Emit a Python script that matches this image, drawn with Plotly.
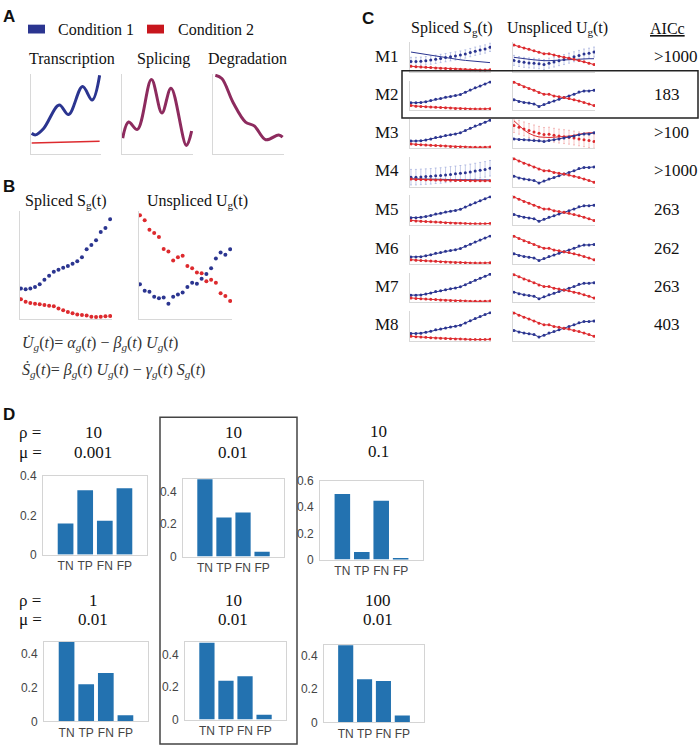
import plotly.graph_objects as go

W, H = 700, 753

# ------------------------------------------------------------------ DATA
# Panel A (normalised knot values of the sketched curves)
A_trans_x = [0, 0.057, 0.176, 0.405, 0.543, 0.748, 0.89, 1.0]
A_trans_blue = [0.265, 0.245, 0.327, 0.624, 0.502, 0.857, 0.686, 1.0]
A_trans_red_x = [0, 1.0]
A_trans_red = [0.143, 0.163]
A_splice_x = [0, 0.085, 0.213, 0.417, 0.569, 0.701, 0.924, 1.0]
A_splice = [0.204, 0.408, 0.314, 0.947, 0.522, 0.837, 0.11, 0.294]
A_degr_x = [0.024, 0.118, 0.283, 0.462, 0.589, 0.755, 0.943, 1.0]
A_degr = [1.0, 0.959, 0.653, 0.408, 0.359, 0.184, 0.245, 0.216]

# Panel B (20 time points)
B_t = list(range(20))
B_S_blue = [0.268, 0.262, 0.268, 0.284, 0.308, 0.351, 0.390, 0.427, 0.445, 0.466,
            0.482, 0.503, 0.527, 0.564, 0.640, 0.680, 0.726, 0.802, 0.841, 0.924]
B_S_red = [0.168, 0.143, 0.131, 0.125, 0.119, 0.113, 0.107, 0.101, 0.079, 0.064,
           0.046, 0.034, 0.024, 0.018, 0.015, 0.003, 0.0, 0.003, 0.006, 0.009]
B_U_red = [0.960, 0.915, 0.823, 0.793, 0.756, 0.643, 0.619, 0.534, 0.564, 0.579,
           0.482, 0.460, 0.421, 0.412, 0.338, 0.351, 0.323, 0.223, 0.198, 0.152]
B_U_blue = [0.308, 0.247, 0.238, 0.192, 0.177, 0.183, 0.125, 0.192, 0.213, 0.232,
            0.284, 0.323, 0.314, 0.360, 0.405, 0.460, 0.552, 0.610, 0.588, 0.640]

# Panel C (17 time points per mini plot)
C_t = list(range(17))
C_models = ["M1", "M2", "M3", "M4", "M5", "M6", "M7", "M8"]
C_aicc = [">1000", "183", ">100", ">1000", "263", "262", "263", "403"]
C_S_blue = [0.22, 0.22, 0.23, 0.26, 0.30, 0.35, 0.38, 0.42, 0.45, 0.48, 0.52, 0.60,
            0.68, 0.76, 0.83, 0.90, 0.97]
C_S_red = [0.12, 0.10, 0.09, 0.08, 0.07, 0.06, 0.05, 0.04, 0.03, 0.02, 0.02, 0.01,
           0.0, 0.0, 0.0, 0.0, 0.01]
C_U_red = [0.96, 0.88, 0.80, 0.74, 0.67, 0.59, 0.53, 0.53, 0.47, 0.44, 0.41, 0.38,
           0.33, 0.29, 0.235, 0.18, 0.12]
C_U_blue = [0.33, 0.27, 0.235, 0.21, 0.18, 0.09, 0.16, 0.235, 0.29, 0.35, 0.41, 0.47,
            0.53, 0.61, 0.65, 0.65, 0.67]
# M1 specific
M1_S_blue_fit = [0.67, 0.64, 0.61, 0.58, 0.55, 0.52, 0.49, 0.46, 0.43, 0.41, 0.39, 0.37,
                 0.35, 0.33, 0.31, 0.30, 0.29]
M1_S_blue = [0.33, 0.33, 0.34, 0.36, 0.38, 0.41, 0.44, 0.47, 0.50, 0.53, 0.56, 0.60,
             0.65, 0.70, 0.74, 0.78, 0.84]
M1_S_blue_err = [0.15] * 17
M1_S_red = [0.16, 0.14, 0.13, 0.12, 0.11, 0.10, 0.09, 0.08, 0.07, 0.06, 0.05, 0.04,
            0.03, 0.03, 0.02, 0.02, 0.03]
M1_U_red = [0.92, 0.87, 0.82, 0.77, 0.72, 0.66, 0.61, 0.61, 0.56, 0.52, 0.48, 0.45,
            0.41, 0.37, 0.32, 0.27, 0.22]
M1_U_blue_fit = [0.48, 0.45, 0.43, 0.41, 0.39, 0.37, 0.36, 0.36, 0.37, 0.38, 0.40, 0.41,
                 0.42, 0.43, 0.43, 0.43, 0.43]
M1_U_blue = [0.37, 0.33, 0.30, 0.28, 0.27, 0.25, 0.22, 0.27, 0.31, 0.36, 0.40, 0.45,
             0.50, 0.55, 0.60, 0.63, 0.67]
M1_U_blue_err = [0.18] * 17
# M3 specific
M3_U_red = [0.78, 0.72, 0.66, 0.60, 0.55, 0.50, 0.46, 0.47, 0.43, 0.40, 0.38, 0.36,
            0.33, 0.30, 0.27, 0.24, 0.21]
M3_U_red_err = [0.25] * 17
M3_U_red_fit = [0.95, 0.78, 0.62, 0.50, 0.42, 0.37, 0.35, 0.35, 0.36, 0.37, 0.38, 0.40,
                0.43, 0.47, 0.50, 0.52, 0.52]
M3_U_blue = [0.30, 0.28, 0.27, 0.26, 0.24, 0.23, 0.21, 0.24, 0.27, 0.30, 0.33, 0.37,
             0.40, 0.45, 0.48, 0.48, 0.52]
# M4 specific
M4_S_blue = [0.30, 0.30, 0.31, 0.32, 0.33, 0.35, 0.36, 0.38, 0.40, 0.42, 0.44, 0.46,
             0.49, 0.52, 0.55, 0.58, 0.62]
M4_S_blue_err = [0.28] * 17
M4_S_blue_fit = [0.24, 0.24, 0.23, 0.23, 0.23, 0.22, 0.22, 0.22, 0.21, 0.21, 0.21, 0.21,
                 0.20, 0.20, 0.20, 0.20, 0.20]
M4_S_red = [0.23, 0.22, 0.22, 0.21, 0.21, 0.20, 0.20, 0.19, 0.19, 0.18, 0.18, 0.18,
            0.17, 0.17, 0.17, 0.17, 0.17]

# Panel D
D_cats = ["TN", "TP", "FN", "FP"]
D_rho = ["10", "10", "10", "1", "10", "100"]
D_mu = ["0.001", "0.01", "0.1", "0.01", "0.01", "0.01"]
D_vals = [
    [0.158, 0.328, 0.172, 0.338],
    [0.475, 0.24, 0.27, 0.03],
    [0.50, 0.057, 0.45, 0.005],
    [0.467, 0.219, 0.284, 0.036],
    [0.475, 0.24, 0.267, 0.03],
    [0.463, 0.259, 0.249, 0.041],
]

# ------------------------------------------------------------------ STYLE
BLUE = "#2b3590"
RED = "#dd2a2e"
PURPLE = "#8d2b5e"
BAR = "#2372b0"
SERIF = "'Liberation Serif', Tinos, 'Times New Roman', 'DejaVu Serif', serif"
SANS = "'Liberation Sans', Arial, sans-serif"

fig = go.Figure()
_n = [0]


def new_axes(x0, x1, y0, y1, xr, yr, kind="plain", tickvals=None):
    _n[0] += 1
    n = _n[0]
    s = "" if n == 1 else str(n)
    base = dict(showgrid=False, zeroline=False, fixedrange=True)
    if kind == "plain":
        xa = dict(base, domain=[x0 / W, x1 / W], anchor="y" + s, range=xr,
                  showline=True, linecolor="#d8d8d8", linewidth=1,
                  showticklabels=False, ticks="")
        ya = dict(base, domain=[1 - y1 / H, 1 - y0 / H], anchor="x" + s, range=yr,
                  showline=True, linecolor="#d8d8d8", linewidth=1,
                  showticklabels=False, ticks="")
    else:
        xa = dict(base, domain=[x0 / W, x1 / W], anchor="y" + s, range=xr,
                  type="category", showline=True, mirror=True, linecolor="#d4d4d4",
                  linewidth=1, ticks="", tickfont=dict(family=SANS, size=12, color="#444"))
        ya = dict(base, domain=[1 - y1 / H, 1 - y0 / H], anchor="x" + s, range=yr,
                  showline=True, mirror=True, linecolor="#d4d4d4", linewidth=1,
                  ticks="", tickvals=tickvals, ticklabelstandoff=3,
                  tickfont=dict(family=SANS, size=12, color="#444"))
    fig.update_layout({"xaxis" + s: xa, "yaxis" + s: ya})
    return "x" + s, "y" + s


def text(px, py, s, size=16, family=SERIF, anchor="center", color="#111", bold=False):
    if bold:
        s = "<b>" + s + "</b>"
    fig.add_annotation(x=px / W, y=1 - py / H, xref="paper", yref="paper", text=s,
                       showarrow=False, xanchor=anchor, yanchor="middle",
                       font=dict(family=family, size=size, color=color))


def rect(x0, y0, x1, y1, color, fill=None, width=1.5):
    fig.add_shape(type="rect", xref="paper", yref="paper", x0=x0 / W, x1=x1 / W,
                  y0=1 - y1 / H, y1=1 - y0 / H,
                  line=dict(color=color, width=0 if fill else width),
                  fillcolor=fill if fill else "rgba(0,0,0,0)")


# ------------------------------------------------------------------ PANEL A
text(9, 10, "A", size=17, family=SANS, bold=True)
rect(28, 18, 45, 27, BLUE, fill=BLUE)
text(56, 23, "Condition 1", size=16, anchor="left")
rect(147, 18, 164, 27, RED, fill="#c8161d")
text(176, 23, "Condition 2", size=16, anchor="left")
text(72, 53, "Transcription", size=16)
text(163, 53, "Splicing", size=16)
text(247, 53, "Degradation", size=16)

xa, ya = new_axes(31, 101, 68, 150, [-0.01, 1.02], [0, 1.02])
fig.add_trace(go.Scatter(x=A_trans_red_x, y=A_trans_red, mode="lines", xaxis=xa, yaxis=ya,
                         line=dict(color=RED, width=1.5)))
fig.add_trace(go.Scatter(x=A_trans_x, y=A_trans_blue, mode="lines", xaxis=xa, yaxis=ya,
                         line=dict(color=BLUE, width=3, shape="spline", smoothing=1.0)))
xa, ya = new_axes(122, 193, 68, 150, [-0.01, 1.02], [0, 1.02])
fig.add_trace(go.Scatter(x=A_splice_x, y=A_splice, mode="lines", xaxis=xa, yaxis=ya,
                         line=dict(color=PURPLE, width=3, shape="spline", smoothing=1.0)))
xa, ya = new_axes(213, 284, 68, 150, [-0.01, 1.02], [0, 1.02])
fig.add_trace(go.Scatter(x=A_degr_x, y=A_degr, mode="lines", xaxis=xa, yaxis=ya,
                         line=dict(color=PURPLE, width=3, shape="spline", smoothing=1.0)))

# ------------------------------------------------------------------ PANEL B
text(9, 183, "B", size=17, family=SANS, bold=True)
text(66, 198, "Spliced S<sub>g</sub>(t)", size=16)
text(197, 198, "Unspliced U<sub>g</sub>(t)", size=16)
xa, ya = new_axes(20, 112, 208, 318, [-0.2, 19.4], [-0.02, 1])
fig.add_trace(go.Scatter(x=B_t, y=B_S_blue, mode="markers", xaxis=xa, yaxis=ya,
                         marker=dict(color=BLUE, size=4)))
fig.add_trace(go.Scatter(x=B_t, y=B_S_red, mode="markers", xaxis=xa, yaxis=ya,
                         marker=dict(color=RED, size=4)))
xa, ya = new_axes(139, 232, 208, 318, [-0.2, 19.4], [-0.02, 1])
fig.add_trace(go.Scatter(x=B_t, y=B_U_red, mode="markers", xaxis=xa, yaxis=ya,
                         marker=dict(color=RED, size=4)))
fig.add_trace(go.Scatter(x=B_t, y=B_U_blue, mode="markers", xaxis=xa, yaxis=ya,
                         marker=dict(color=BLUE, size=4)))
text(20, 343, "<i>U\u0307<sub>g</sub></i>(<i>t</i>)= <i>\u03b1<sub>g</sub></i>(<i>t</i>) \u2212 "
              "<i>\u03b2<sub>g</sub></i>(<i>t</i>) <i>U<sub>g</sub></i>(<i>t</i>)",
     size=16, anchor="left", color="#333")
text(20, 370, "<i>S\u0307<sub>g</sub></i>(<i>t</i>)= <i>\u03b2<sub>g</sub></i>(<i>t</i>) "
              "<i>U<sub>g</sub></i>(<i>t</i>) \u2212 <i>\u03b3<sub>g</sub></i>(<i>t</i>) "
              "<i>S<sub>g</sub></i>(<i>t</i>)",
     size=16, anchor="left", color="#333")

# ------------------------------------------------------------------ PANEL C
text(368, 12, "C", size=17, family=SANS, bold=True)
text(452, 22, "Spliced S<sub>g</sub>(t)", size=16)
text(557, 22, "Unspliced U<sub>g</sub>(t)", size=16)
text(667, 22, "<u>AICc</u>", size=16)

row_bottoms = [66, 105, 144, 183, 222, 262, 301, 340]
XR = [-0.2, 16.2]
YR = [-0.04, 1.02]
ERRB = "rgba(120,135,205,0.55)"
ERRR = "rgba(235,120,120,0.55)"


def lm(xa, ya, y, color, err=None, errcolor=None, mode="lines+markers"):
    kw = {}
    if err is not None:
        kw["error_y"] = dict(type="data", array=err, color=errcolor, thickness=0.8, width=1)
    fig.add_trace(go.Scatter(x=C_t, y=y, mode=mode, xaxis=xa, yaxis=ya,
                             line=dict(color=color, width=1),
                             marker=dict(color=color, size=3), **kw))


for i, (m, a) in enumerate(zip(C_models, C_aicc)):
    b = row_bottoms[i]
    yc = b - 16
    text(373, yc, m, size=17, anchor="left")
    text(652, yc, a, size=17, anchor="left")
    xs, ys = new_axes(410, 491, b - 30, b, XR, YR)
    xu, yu = new_axes(513, 595, b - 30, b, XR, YR)
    if m == "M1":
        lm(xs, ys, M1_S_blue, BLUE, M1_S_blue_err, ERRB, mode="markers")
        lm(xs, ys, M1_S_blue_fit, BLUE, mode="lines")
        lm(xs, ys, M1_S_red, RED)
        lm(xu, yu, M1_U_blue, BLUE, M1_U_blue_err, ERRB, mode="markers")
        lm(xu, yu, M1_U_blue_fit, BLUE, mode="lines")
        lm(xu, yu, M1_U_red, RED)
    elif m == "M3":
        lm(xs, ys, C_S_blue, BLUE)
        lm(xs, ys, C_S_red, RED)
        lm(xu, yu, M3_U_red, RED, M3_U_red_err, ERRR, mode="markers")
        lm(xu, yu, M3_U_red_fit, RED, mode="lines")
        lm(xu, yu, M3_U_blue, BLUE)
    elif m == "M4":
        lm(xs, ys, M4_S_blue, BLUE, M4_S_blue_err, ERRB, mode="markers")
        lm(xs, ys, M4_S_blue_fit, BLUE, mode="lines")
        lm(xs, ys, M4_S_red, RED)
        lm(xu, yu, C_U_blue, BLUE)
        lm(xu, yu, C_U_red, RED)
    else:
        lm(xs, ys, C_S_blue, BLUE)
        lm(xs, ys, C_S_red, RED)
        lm(xu, yu, C_U_blue, BLUE)
        lm(xu, yu, C_U_red, RED)

rect(402, 65, 698, 113, "#222", width=1.5)

# ------------------------------------------------------------------ PANEL D
text(9, 415, "D", size=17, family=SANS, bold=True)
rect(160, 418, 297, 751, "#444", width=1.5)

text(17, 434, "\u03c1 =", size=17, anchor="left")
text(17, 454, "\u03bc =", size=17, anchor="left")
text(17, 605, "\u03c1 =", size=17, anchor="left")
text(17, 624, "\u03bc =", size=17, anchor="left")

col_cx = [93, 233, 378, 93, 233, 378]
label_y = [(434, 454), (434, 454), (433, 453), (605, 624), (605, 624), (605, 624)]
boxes = [(43, 147, 478, 558), (183, 284, 481, 560), (320, 423, 483, 563),
         (44, 148, 647, 728), (185, 286, 647, 726), (324, 424, 650, 729)]
yranges = [[0, 0.4], [0, 0.476], [0, 0.6], [0, 0.467], [0, 0.48], [0, 0.465]]
ticks = [[0, 0.2, 0.4], [0, 0.2, 0.4], [0, 0.2, 0.4, 0.6],
         [0, 0.2, 0.4], [0, 0.2, 0.4], [0, 0.2, 0.4]]

for k in range(6):
    text(col_cx[k], label_y[k][0], D_rho[k], size=17)
    text(col_cx[k], label_y[k][1], D_mu[k], size=17)
    x0, x1, y0, y1 = boxes[k]
    xa, ya = new_axes(x0, x1, y0, y1, [-1.15, 4.15], yranges[k], kind="bar",
                      tickvals=ticks[k])
    fig.add_trace(go.Bar(x=D_cats, y=D_vals[k], xaxis=xa, yaxis=ya, marker_color=BAR,
                         marker_line_width=0, width=0.8))

fig.update_layout(width=W, height=H, margin=dict(l=0, r=0, t=0, b=0),
                  paper_bgcolor="white", plot_bgcolor="white", showlegend=False)
fig.write_html("out.html")
